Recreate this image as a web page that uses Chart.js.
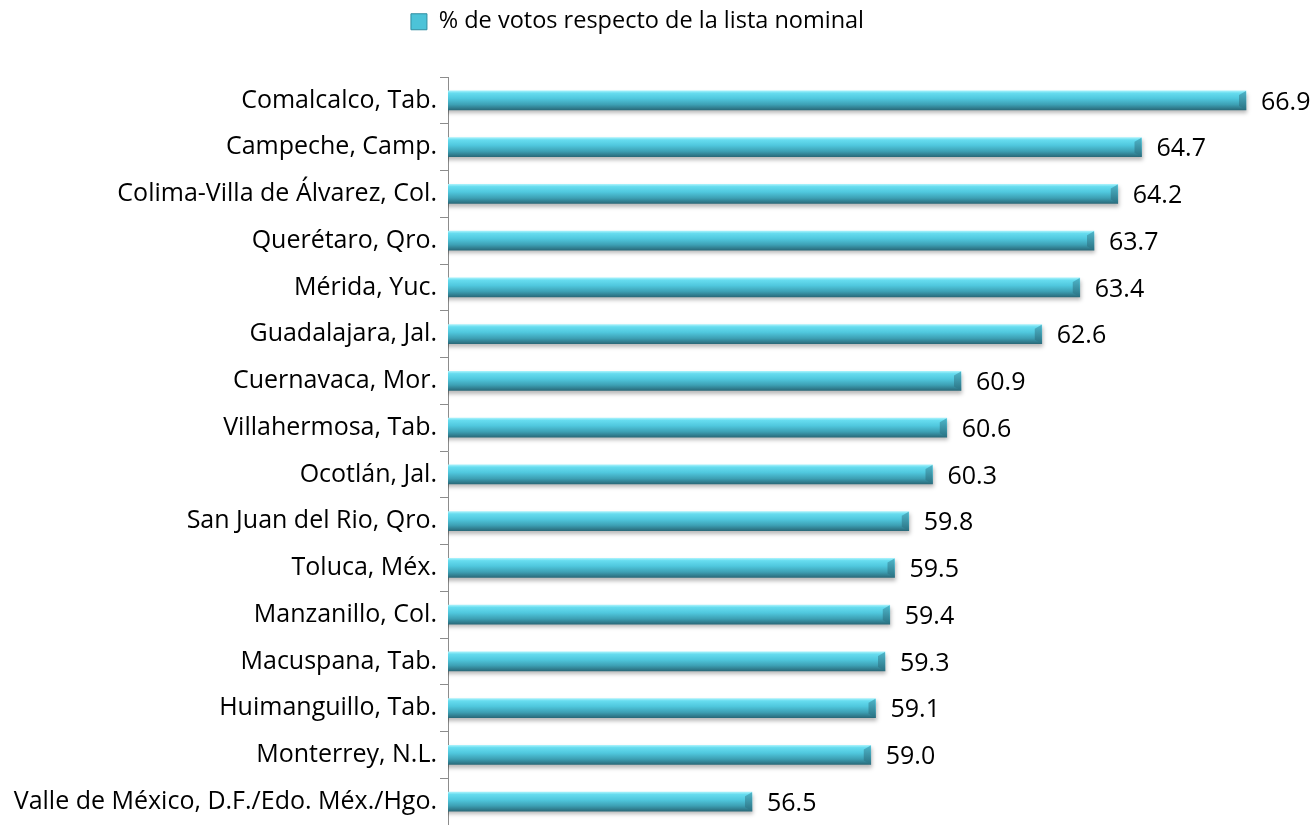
<!DOCTYPE html>
<html>
<head>
<meta charset="utf-8">
<script src="https://cdn.jsdelivr.net/npm/chart.js@4.4.1/dist/chart.umd.min.js"></script>
<style>
  html, body { margin: 0; padding: 0; background: #fff; }
  #wrap { width: 1313px; height: 825px; }
</style>
</head>
<body>
<div id="wrap"><canvas id="votos-chart"></canvas></div>
<script>
const cities = [
  'Comalcalco, Tab.',
  'Campeche, Camp.',
  'Colima-Villa de Álvarez, Col.',
  'Querétaro, Qro.',
  'Mérida, Yuc.',
  'Guadalajara, Jal.',
  'Cuernavaca, Mor.',
  'Villahermosa, Tab.',
  'Ocotlán, Jal.',
  'San Juan del Rio, Qro.',
  'Toluca, Méx.',
  'Manzanillo, Col.',
  'Macuspana, Tab.',
  'Huimanguillo, Tab.',
  'Monterrey, N.L.',
  'Valle de México, D.F./Edo. Méx./Hgo.'
];
const votos = [66.9, 64.7, 64.2, 63.7, 63.4, 62.6, 60.9, 60.6, 60.3, 59.8, 59.5, 59.4, 59.3, 59.1, 59.0, 56.5];
const seriesName = '% de votos respecto de la lista nominal';

const labelFont = { family: "'Open Sans', sans-serif", size: 25 };
const legendFont = { family: "'Open Sans', sans-serif", size: 23.5 };
const BAR_H = 19;

// gradient fill for each bar, like the bevelled bars of the original
function barGradient(ctx, top, bottom) {
  const g = ctx.createLinearGradient(0, top, 0, bottom);
  g.addColorStop(0, '#a4f1fb');
  g.addColorStop(0.12, '#66dcef');
  g.addColorStop(0.4, '#50c8de');
  g.addColorStop(0.72, '#3da0b4');
  g.addColorStop(1, '#2a6b7b');
  return g;
}

function barColor(context) {
  const chart = context.chart;
  const y = chart.scales.y;
  if (!y || context.dataIndex === undefined) return '#4cc3d8';
  const mid = y.getPixelForValue(context.dataIndex);
  if (!isFinite(mid)) return '#4cc3d8';
  return barGradient(chart.ctx, mid - BAR_H / 2, mid + BAR_H / 2);
}

const bevelBars = {
  id: 'bevelBars',
  beforeDatasetsDraw(chart) {
    const ctx = chart.ctx;
    ctx.save();
    ctx.shadowColor = 'rgba(0,0,0,0.28)';
    ctx.shadowBlur = 4;
    ctx.shadowOffsetY = 3;
    ctx.shadowOffsetX = 1;
  },
  afterDatasetsDraw(chart) {
    const ctx = chart.ctx;
    ctx.restore();
    // darker end cap on the right of each bar
    chart.getDatasetMeta(0).data.forEach(bar => {
      const top = bar.y - bar.height / 2;
      const bottom = bar.y + bar.height / 2;
      ctx.save();
      ctx.beginPath();
      ctx.moveTo(bar.x - 7, top + 4);
      ctx.lineTo(bar.x, top);
      ctx.lineTo(bar.x, bottom);
      ctx.lineTo(bar.x - 7, bottom - 4);
      ctx.closePath();
      const g = ctx.createLinearGradient(0, top, 0, bottom);
      g.addColorStop(0, '#4fb7cb');
      g.addColorStop(1, '#2a7283');
      ctx.fillStyle = g;
      ctx.fill();
      // light bevel at the left end
      ctx.beginPath();
      const x0 = bar.base;
      ctx.moveTo(x0, top);
      ctx.lineTo(x0 + 6, top + 4);
      ctx.lineTo(x0, top + 8);
      ctx.closePath();
      ctx.fillStyle = 'rgba(40,120,140,0.55)';
      ctx.fill();
      ctx.restore();
    });
    // value labels
    ctx.save();
    ctx.font = labelFont.size + 'px ' + labelFont.family;
    ctx.fillStyle = '#000';
    ctx.textAlign = 'left';
    ctx.textBaseline = 'middle';
    chart.getDatasetMeta(0).data.forEach((bar, i) => {
      ctx.fillText(votos[i].toFixed(1), bar.x + 15, bar.y + 2);
    });
    ctx.restore();
  }
};

// legend: fixed height above the plot, nudged a little to the left
const legendTweak = {
  id: 'legendTweak',
  beforeInit(chart) {
    const legend = chart.legend;
    const fit = legend.fit;
    legend.fit = function () {
      fit.bind(legend)();
      this.height = 77;
    };
    const draw = legend.draw;
    legend.draw = function () {
      const c = chart.ctx;
      c.save();
      c.translate(-14, 0);
      draw.bind(legend)();
      c.restore();
    };
  }
};

const ctx = document.getElementById('votos-chart').getContext('2d');
new Chart(ctx, {
  type: 'bar',
  data: {
    labels: cities,
    datasets: [{
      label: seriesName,
      data: votos,
      backgroundColor: barColor,
      borderWidth: 0,
      barThickness: BAR_H
    }]
  },
  options: {
    indexAxis: 'y',
    responsive: true,
    maintainAspectRatio: false,
    animation: false,
    layout: { padding: { top: 0, right: 10, bottom: 0, left: 0 } },
    scales: {
      x: {
        display: false,
        min: 50.1,
        max: 68.1
      },
      y: {
        afterFit(scale) {
          scale.width = 448;
          scale.paddingTop = 0;
          scale.paddingBottom = 0;
        },
        border: { display: true, color: '#8c8c8c', width: 1 },
        grid: {
          offset: true,
          drawOnChartArea: false,
          drawTicks: true,
          tickLength: 8,
          color: '#8c8c8c'
        },
        ticks: {
          color: '#000',
          font: labelFont,
          padding: 3
        }
      }
    },
    plugins: {
      legend: {
        position: 'top',
        labels: {
          boxWidth: 16,
          boxHeight: 16,
          color: '#000',
          font: legendFont,
          padding: 10,
          generateLabels(chart) {
            const items = Chart.defaults.plugins.legend.labels.generateLabels(chart);
            items.forEach(it => {
              it.fillStyle = '#4cc3d8';
              it.strokeStyle = '#2f8da0';
              it.lineWidth = 1;
            });
            return items;
          }
        }
      },
      tooltip: { enabled: false }
    }
  },
  plugins: [legendTweak, bevelBars]
});
</script>
</body>
</html>
